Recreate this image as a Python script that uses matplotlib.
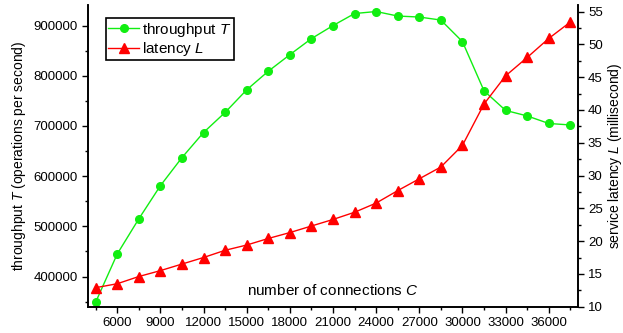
import matplotlib
matplotlib.use('Agg')
import matplotlib.pyplot as plt
from matplotlib.ticker import MultipleLocator

plt.rcParams['font.family'] = ['Liberation Sans', 'DejaVu Sans']
plt.rcParams['mathtext.fontset'] = 'custom'
plt.rcParams['mathtext.it'] = 'Liberation Sans:italic'

# number of connections C
connections = [4500, 6000, 7500, 9000, 10500, 12000, 13500, 15000, 16500, 18000,
               19500, 21000, 22500, 24000, 25500, 27000, 28500, 30000, 31500,
               33000, 34500, 36000, 37500]
# throughput T (operations per second)
throughput = [349000, 445000, 515000, 581000, 637000, 687000, 727000, 772000,
              809000, 842000, 874000, 900000, 924000, 928000, 919000, 917000,
              911000, 868000, 770000, 731000, 720000, 705000, 702000]
# service latency L (millisecond)
latency = [12.9, 13.5, 14.6, 15.5, 16.5, 17.5, 18.6, 19.4, 20.4, 21.3, 22.3,
           23.3, 24.4, 25.8, 27.7, 29.5, 31.3, 34.6, 40.9, 45.2, 48.0, 50.9, 53.4]
x_ticks = [6000, 9000, 12000, 15000, 18000, 21000, 24000, 27000, 30000, 33000, 36000]

fig = plt.figure(figsize=(6.23, 3.33), dpi=100)
ax = fig.add_axes([0.142, 0.079, 0.785, 0.906])
ax2 = ax.twinx()

l1, = ax.plot(connections, throughput, color='#11ee11', lw=1, marker='o',
              markersize=5.5, label='throughput $T$')
l2, = ax2.plot(connections, latency, color='#ff0000', lw=1, marker='^',
               markersize=7, label='latency $L$')

ax.set_xlim(4000, 38000)
ax.set_ylim(340000, 941000)
ax2.set_ylim(10, 56)
ax.set_xticks(x_ticks)
ax.xaxis.set_minor_locator(MultipleLocator(1500))
ax.set_yticks([400000, 500000, 600000, 700000, 800000, 900000])
ax.yaxis.set_minor_locator(MultipleLocator(50000))
ax2.set_yticks([10, 15, 20, 25, 30, 35, 40, 45, 50, 55])
ax2.yaxis.set_minor_locator(MultipleLocator(2.5))

for a in (ax, ax2):
    a.spines['top'].set_visible(False)
    for s in a.spines.values():
        s.set_linewidth(1.2)
    a.tick_params(which='major', direction='out', length=4, width=1, labelsize=9.5)
    a.tick_params(which='minor', direction='out', length=2.5, width=1)

ax.set_ylabel('throughput $T$ (operations per second)', fontsize=10)
ax2.set_ylabel('service latency $L$ (millisecond)', fontsize=10, labelpad=2)
ax.text(0.5, 0.03, 'number of connections $C$', transform=ax.transAxes,
        ha='center', va='bottom', fontsize=11)

leg = ax.legend(handles=[l1, l2], loc='upper left', bbox_to_anchor=(0.036, 0.956),
                fontsize=11, frameon=True, fancybox=False, framealpha=1,
                edgecolor='black', borderpad=0.15, handlelength=2.0,
                handletextpad=0.2, labelspacing=0.1, borderaxespad=0)
leg.get_frame().set_linewidth(1.2)

fig.savefig('out.png', dpi=100)
